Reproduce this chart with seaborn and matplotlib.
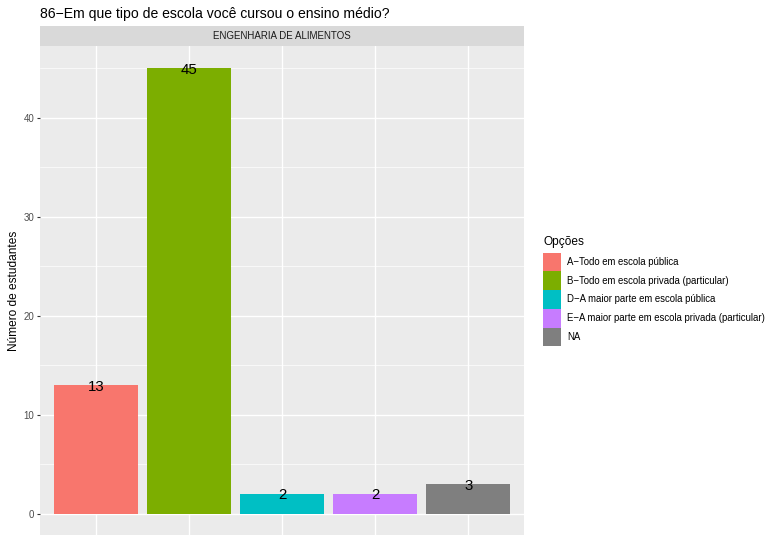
import matplotlib
matplotlib.use("Agg")
import matplotlib.pyplot as plt
import seaborn as sns
import pandas as pd
from matplotlib.patches import Patch

categories = ["A\u2212Todo em escola pública",
              "B\u2212Todo em escola privada (particular)",
              "D\u2212A maior parte em escola pública",
              "E\u2212A maior parte em escola privada (particular)",
              "NA"]
values = [13, 45, 2, 2, 3]
colors = ["#F8766D", "#7CAE00", "#00BFC4", "#C77CFF", "#7F7F7F"]
yticks = [0, 10, 20, 30, 40]
title = "86\u2212Em que tipo de escola você cursou o ensino médio?"
strip_label = "ENGENHARIA DE ALIMENTOS"
ylabel = "Número de estudantes"
legend_title = "Opções"

sns.set_theme(style="darkgrid")
plt.rcParams["font.family"] = ["Liberation Sans", "DejaVu Sans"]

W, H = 769, 535
fig = plt.figure(figsize=(W / 100, H / 100), dpi=100)

def fx(px):
    return px / W

def fy(py):
    return 1 - py / H

pl, pr, pt, pb = 40, 524, 46, 536
ax = fig.add_axes([fx(pl), fy(pb), fx(pr - pl), (pb - pt) / H])

df = pd.DataFrame({"cat": categories, "val": values})
pal = dict(zip(categories, colors))
sns.barplot(data=df, x="cat", y="val", hue="cat", palette=pal, order=categories,
            hue_order=categories, width=0.9, saturation=1, legend=False, ax=ax,
            edgecolor="none", linewidth=0)

for i, v in enumerate(values):
    ax.text(i, v, str(v), ha="center", va="center_baseline", fontsize=10.8,
            color="black")

ax.set_xlim(-0.6, len(categories) - 0.4)
ax.set_ylim(-2.25, 47.25)
ax.set_facecolor("#EBEBEB")
ax.set_yticks(yticks)
ax.set_yticklabels([str(t) for t in yticks])
ax.set_yticks([5, 15, 25, 35, 45], minor=True)
ax.set_xticks(range(len(categories)))
ax.set_xticklabels([])
ax.grid(which="major", color="white", linewidth=1.0)
ax.grid(which="minor", axis="y", color="white", linewidth=0.5)
ax.set_axisbelow(True)
for s in ax.spines.values():
    s.set_visible(False)
ax.tick_params(axis="y", which="major", length=2.5, width=0.8, color="#333333",
               labelsize=7.0, labelcolor="#4D4D4D", pad=1.5, left=True)
ax.tick_params(axis="y", which="minor", length=0, left=False)
ax.tick_params(axis="x", length=0, bottom=False)
ax.set_xlabel("")
ax.set_ylabel("")

# facet strip
sax = fig.add_axes([fx(pl), fy(pt), fx(pr - pl), (pt - 26) / H])
sax.set_facecolor("#D9D9D9")
sax.grid(False)
sax.set_xticks([]); sax.set_yticks([])
for s in sax.spines.values():
    s.set_visible(False)
sax.text(0.5, 0.5, strip_label, ha="center", va="center", fontsize=7.0,
         color="#1A1A1A", transform=sax.transAxes)

fig.text(fx(40), fy(14), title, ha="left", va="center", fontsize=10.1, color="black")
fig.text(fx(14), fy(291), ylabel, ha="center", va="center", rotation=90,
         fontsize=8.6, color="black")

# legend
handles = [Patch(facecolor=c, edgecolor="none") for c in colors]
fs = 6.95
fspx = fs / 72 * 100
hh = (18.7 / fspx - 0.245) / 0.65
leg = fig.legend(handles, categories, loc="upper left",
                 bbox_to_anchor=(fx(542.7), fy(252.7)), frameon=False,
                 fontsize=fs, handlelength=18.3 / fspx, handleheight=hh,
                 labelspacing=0, handletextpad=6 / fspx, borderpad=0,
                 borderaxespad=0)
for t in leg.get_texts():
    t.set_color("black")
fig.text(fx(543), fy(242), legend_title, ha="left", va="center", fontsize=8.6,
         color="black")

fig.savefig("out.png", dpi=100)
